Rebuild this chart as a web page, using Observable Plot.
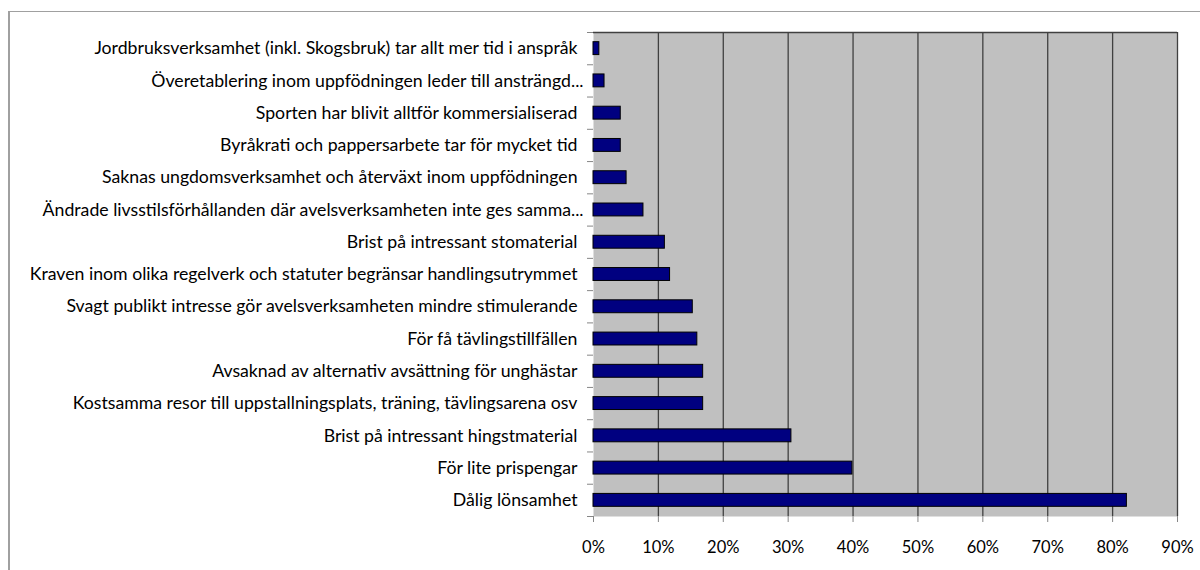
<!DOCTYPE html>
<html>
<head>
<meta charset="utf-8">
<script src="https://cdn.jsdelivr.net/npm/d3@7"></script>
<script src="https://cdn.jsdelivr.net/npm/@observablehq/plot@0.6"></script>
<style>
  html, body { margin: 0; padding: 0; background: #fff; }
  #wrap { position: relative; width: 1200px; height: 570px; overflow: hidden; }
  #border { position: absolute; left: 8px; top: 11px; width: 1250px; height: 620px;
            border-left: 2px solid #a0a0a0; border-top: 1.5px solid #a0a0a0; pointer-events: none; }
  #chart { position: absolute; left: 0; top: 0; }
</style>
</head>
<body>
<div id="wrap"><div id="chart"></div><div id="border"></div></div>
<script>
const categories = [
  "Jordbruksverksamhet (inkl. Skogsbruk) tar allt mer tid i anspråk",
  "Överetablering inom uppfödningen leder till ansträngd...",
  "Sporten har blivit alltför kommersialiserad",
  "Byråkrati och pappersarbete tar för mycket tid",
  "Saknas ungdomsverksamhet och återväxt inom uppfödningen",
  "Ändrade livsstilsförhållanden där avelsverksamheten inte ges samma...",
  "Brist på intressant stomaterial",
  "Kraven inom olika regelverk och statuter begränsar handlingsutrymmet",
  "Svagt publikt intresse gör avelsverksamheten mindre stimulerande",
  "För få tävlingstillfällen",
  "Avsaknad av alternativ avsättning för unghästar",
  "Kostsamma resor till uppstallningsplats, träning, tävlingsarena osv",
  "Brist på intressant hingstmaterial",
  "För lite prispengar",
  "Dålig lönsamhet"
];
const values = [0.009, 0.017, 0.042, 0.042, 0.051, 0.077, 0.110, 0.118, 0.153, 0.160, 0.169, 0.169, 0.305, 0.399, 0.822];
const xTicks = [0, 0.1, 0.2, 0.3, 0.4, 0.5, 0.6, 0.7, 0.8, 0.9];

const data = categories.map((c, i) => ({label: c, value: values[i], i}));
const bounds = d3.range(0, categories.length + 1);
const isCut = d => d.label.endsWith("...");

const chart = Plot.plot({
  width: 1200,
  height: 570,
  marginLeft: 593,
  marginRight: 23,
  marginTop: 32,
  marginBottom: 54,
  style: {background: "transparent", fontFamily: "Lato, 'Open Sans', sans-serif", color: "black"},
  x: {domain: [0, 0.9]},
  y: {domain: [0, categories.length], reverse: true},
  marks: [
    Plot.frame({fill: "#c0c0c0", stroke: null}),
    Plot.gridX(xTicks.slice(1), {stroke: "#404040", strokeOpacity: 1, strokeWidth: 1.3}),
    Plot.ruleY([0], {stroke: "#404040", strokeWidth: 1.3}),
    Plot.rectX(data, {x1: 0, x2: "value", y1: d => d.i + 0.3, y2: d => d.i + 0.7,
                      fill: "#000080", stroke: "#000000", strokeWidth: 1, inset: 0}),
    Plot.axisX({ticks: xTicks, tickFormat: d3.format(".0%"), tickSize: 6, tickPadding: 19,
                stroke: "#868686", fill: "#000", line: true, fontSize: 16.5, label: null}),
    Plot.axisY({ticks: bounds, tickFormat: () => "", tickSize: 6, stroke: "#868686",
                line: true, label: null}),
    Plot.text(data.filter(d => !isCut(d)), {x: 0, y: d => d.i + 0.5, text: "label", textAnchor: "end", dx: -16,
                     fontSize: 17.7, fill: "#000"}),
    Plot.text(data.filter(isCut), {x: 0, y: d => d.i + 0.5, text: "label", textAnchor: "end", dx: -10,
                     fontSize: 17.7, fill: "#000"})
  ]
});
document.getElementById("chart").appendChild(chart);
</script>
</body>
</html>
